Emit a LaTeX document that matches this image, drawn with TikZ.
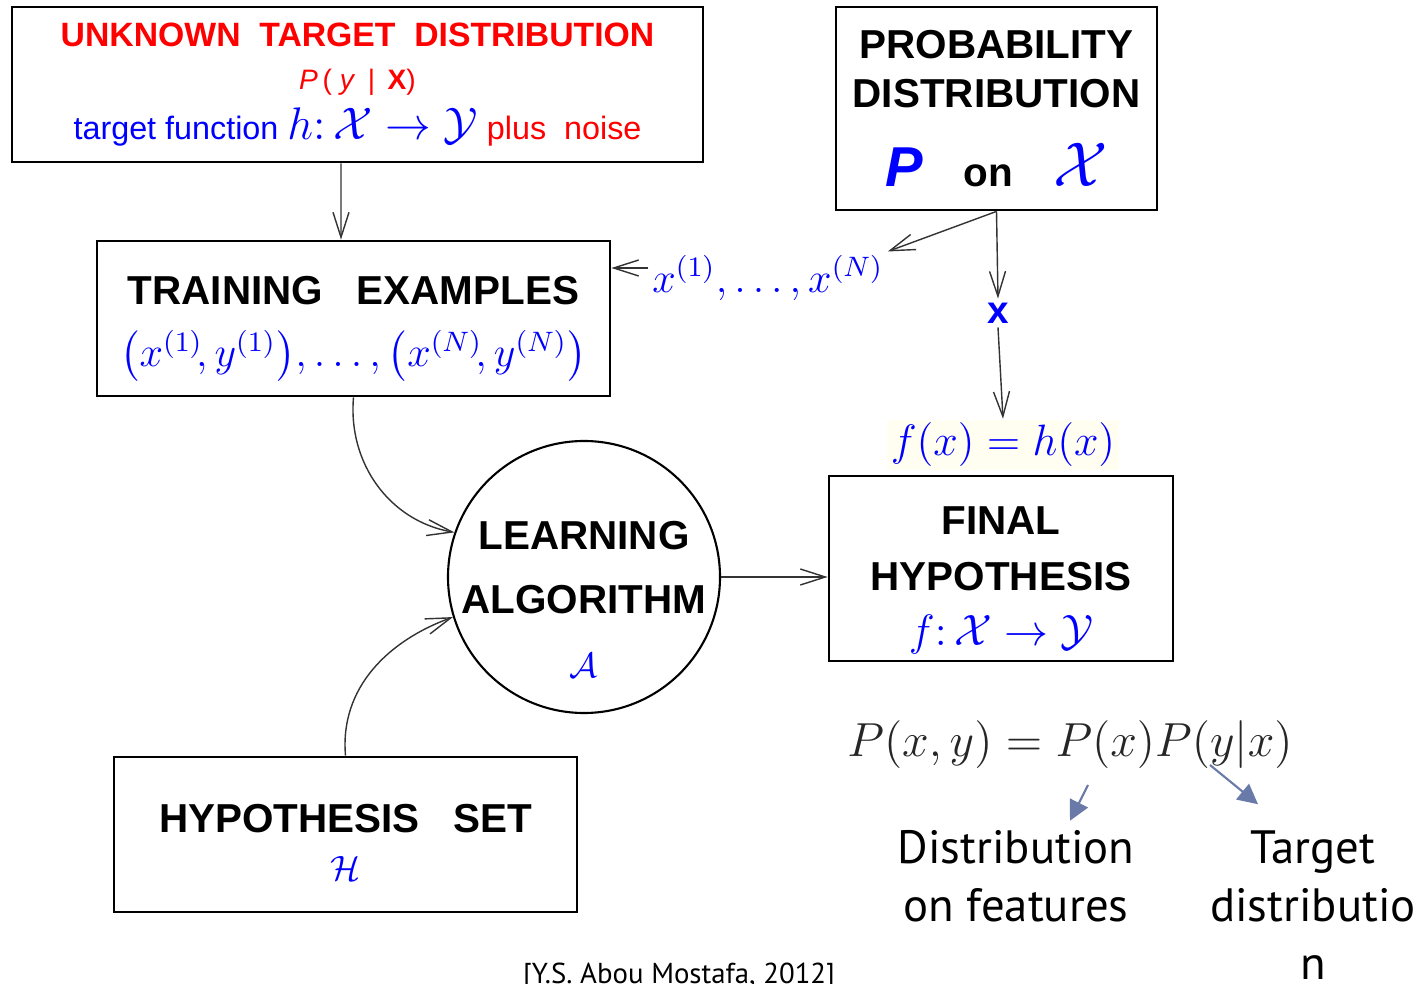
\documentclass[tikz,border=0pt]{standalone}
\usepackage{fix-cm}
\usepackage[no-math]{fontspec}
\usepackage{amsmath,amssymb}
\setmainfont{Liberation Sans}
\newfontfamily\gillfont{PT Sans}
\usetikzlibrary{arrows.meta,positioning,shapes}
\definecolor{slate}{RGB}{106,122,168}
\newcommand{\fsz}[1]{\fontsize{#1}{#1}\selectfont}

\begin{document}
\begin{tikzpicture}[x=0.1mm, y=-0.1mm,
    box/.style={rectangle, draw, thick, align=center, inner sep=0pt},
    link/.style={draw=black!80, thin, -{Straight Barb[length=2.5mm,width=1.6mm]}},
    hint/.style={draw=slate, semithick, -{Triangle[length=2mm,width=2mm]}},
    lbl/.style={inner sep=1pt, text=blue}
]
\useasboundingbox (0,0) rectangle (1419,984);

% Unknown target
\node[box, minimum width=69.1mm, minimum height=15.5mm, font=\fontsize{9.2}{11.7}\selectfont] (target) at (357.5,84.5) {
    {\fsz{9.6}\color{red}\bfseries UNKNOWN\ \ TARGET\ \ DISTRIBUTION}\\[0.5pt]
    {\fsz{8}\color{red}\textit{P}\,( \textit{y}\, |\, \textbf{X})}\\[2.5pt]
    \textcolor{blue}{target function} {\fsz{13}\color{blue}$h{:}\,\mathcal{X}\to\mathcal{Y}$} \textcolor{red}{plus\ \ noise}
};

% Input distribution
\node[box, minimum width=32.1mm, minimum height=20.3mm, font=\fontsize{11.5}{14}\selectfont\bfseries] (prob) at (996.5,108.5) {
    PROBABILITY\\
    DISTRIBUTION\\[8.5pt]
    {\fsz{16}\color{blue}\textit{P}}\quad on\quad {\fsz{18}\color{blue}$\mathcal{X}$}
};

% Training data
\node[box, minimum width=51.3mm, minimum height=15.5mm, font=\fontsize{11.5}{17.5}\selectfont\bfseries] (train) at (353.5,318.5) {
    \rule{0pt}{14pt}TRAINING\ \ \ EXAMPLES\\
    {\fsz{12}\color{blue}$\bigl(x^{(1)}\!,y^{(1)}\bigr),\ldots,\bigl(x^{(N)}\!,y^{(N)}\bigr)$}
};

% Learner
\node[circle, draw, semithick, minimum size=27.2mm, inner sep=0pt,
      label={[name=algtext, align=center, yshift=-2.2mm, font=\fontsize{11.5}{18.2}\selectfont\bfseries]center:
      LEARNING\\ ALGORITHM\\ {\fsz{10}\color{blue}$\mathcal{A}$}}] (alg) at (584,577) {};

% Output
\node[box, minimum width=34.4mm, minimum height=18.5mm, font=\fontsize{11.5}{16}\selectfont\bfseries] (final) at (1001,568.5) {
    \rule{0pt}{14.5pt}FINAL\\
    HYPOTHESIS\\[-0.5pt]
    {\fsz{12.5}\color{blue}$f{:}\,\mathcal{X}\to\mathcal{Y}$}
};

% Hypothesis set
\node[box, minimum width=46.3mm, minimum height=15.5mm, font=\fontsize{11.5}{13.5}\selectfont\bfseries] (hset) at (345.5,834.5) {
    \rule{0pt}{12.5pt}HYPOTHESIS\ \ \ SET\\
    {\fsz{10}\color{blue}$\mathcal{H}$}
};

% labels on the connectors
\node[lbl, font=\fsz{12}] (xs) at (768,278) {$x^{(1)},\ldots,x^{(N)}$};
\node[lbl, font=\fsz{11}\bfseries] (xb) at (998,313) {x};
\node[lbl, font=\fsz{12.5}, fill=yellow!6] (fh) at (1003,445) {$f(x)=h(x)$};

% connectors
\draw[link] ([xshift=-1.65mm]target.south) -- ([xshift=-1.25mm]train.north);
\draw[link] (prob.south) -- (xs.north east);
\draw[link] ([yshift=1mm]xs.west) -- ([yshift=1mm]xs.west -| train.east);
\draw[link] (prob.south) -- (xb.north);
\draw[link] (xb.south) -- (fh.north);
\draw[link] (train.south) to[out=-95, in=170] (alg.161);
\draw[link] (hset.north) to[out=95, in=200] (alg.197);
\draw[link] (alg.east) -- (alg.east -| final.west);

% factorisation of the joint distribution
\node[font=\fsz{13.6}, text=black!85] (pxy) at (1070,745) {$P(x,y)=P(x)P(y|x)$};
\node[font=\gillfont\fontsize{13.3}{16.5}\selectfont, align=center] (dist) at (1016,876) {Distribution\\on features};
\node[font=\gillfont\fontsize{13.3}{16.5}\selectfont, align=center] (tgt) at (1313,905) {Target\\distributio\\n};
\coordinate (pxtail) at (1088,785);
\coordinate (pytail) at (1210,765);
\draw[hint] (pxtail) -- ([xshift=5.4mm,yshift=-0.3mm]dist.north);
\draw[hint] (pytail) -- ([xshift=-5.5mm,yshift=1.4mm]tgt.north);

\node[font=\gillfont\fsz{8.2}, anchor=base] (cite) at (679,983) {[Y.S. Abou Mostafa, 2012]};
\end{tikzpicture}
\end{document}
